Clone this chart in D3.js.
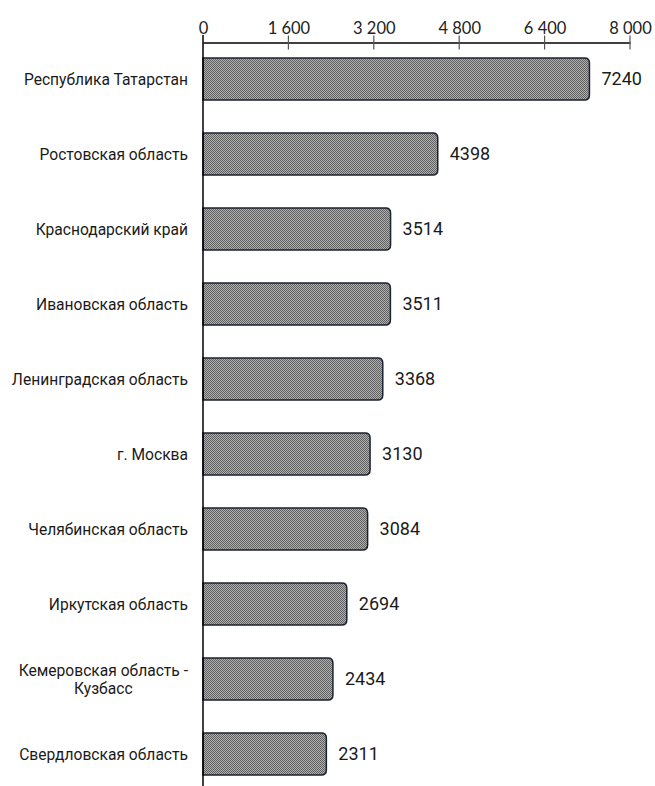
<!DOCTYPE html>
<html><head><meta charset="utf-8">
<script src="https://cdn.jsdelivr.net/npm/d3@7"></script>
<style>body{margin:0;background:#fff;} svg{display:block;}</style>
</head><body>
<svg id="chart" width="655" height="786"></svg>
<script>
const categories = ["Республика Татарстан","Ростовская область","Краснодарский край","Ивановская область","Ленинградская область","г. Москва","Челябинская область","Иркутская область","Кемеровская область -|Кузбасс","Свердловская область"];
const values = [7240,4398,3514,3511,3368,3130,3084,2694,2434,2311];
const tickValues = [0,1600,3200,4800,6400,8000];

const svg = d3.select("#chart");
const defs = svg.append("defs");
const pat = defs.append("pattern").attr("id","chk").attr("patternUnits","userSpaceOnUse").attr("width",2).attr("height",2);
pat.append("rect").attr("width",2).attr("height",2).attr("fill","#b2b2b2");
pat.append("rect").attr("width",1).attr("height",1).attr("fill","#5e5e5e");
pat.append("rect").attr("x",1).attr("y",1).attr("width",1).attr("height",1).attr("fill","#5e5e5e");

const x = d3.scaleLinear().domain([0,8000]).range([203,630]);
const y = d3.scaleBand().domain(categories).range([41.5,791.5]).paddingInner(0.44).paddingOuter(0.22);

// axis
const axis = d3.axisTop(x).tickValues(tickValues).tickSize(0)
  .tickFormat(d => d3.format(",")(d).replace(/,/g," "));
const gA = svg.append("g").attr("transform","translate(0,42.5)").call(axis);
gA.select(".domain").attr("stroke","#000").attr("stroke-width",1.5);
gA.selectAll("text").attr("font-family","Lato, 'Open Sans', sans-serif").attr("font-size","16.5px").attr("fill","#222").attr("dy","-0.35em").attr("y",-3);
// tick marks
svg.append("g").selectAll("line").data(tickValues.slice(1)).join("line")
  .attr("x1",d=>x(d)).attr("x2",d=>x(d)).attr("y1",35.5).attr("y2",49.5)
  .attr("stroke","#555").attr("stroke-width",1.2);

// bars
const r = 5;
function barPath(v, cat){
  const x0 = x(0), x1 = x(v), y0 = y(cat), h = y.bandwidth(), y1 = y0 + h;
  return `M${x0},${y0} L${x1-r},${y0} Q${x1},${y0} ${x1},${y0+r} L${x1},${y1-r} Q${x1},${y1} ${x1-r},${y1} L${x0},${y1} Z`;
}
svg.append("g").selectAll("path").data(values).join("path")
  .attr("d",(d,i)=>barPath(d,categories[i]))
  .attr("fill","url(#chk)").attr("stroke","#1c2230").attr("stroke-width",1.5);

// vertical axis line
svg.append("line").attr("x1",x(0)).attr("x2",x(0)).attr("y1",35).attr("y2",786)
  .attr("stroke","#000").attr("stroke-width",1.5);

// value labels
svg.append("g").selectAll("text").data(values).join("text")
  .attr("x",d=>x(d)+12).attr("y",(d,i)=>y(categories[i])+y.bandwidth()/2)
  .attr("dy","0.36em").attr("font-family","Roboto, sans-serif").attr("font-size","18px").attr("fill","#1a1a1a")
  .text(d=>d);

// category labels
const FS = "15.6px";
const gL = svg.append("g");
categories.forEach(c=>{
  const parts = c.split("|");
  const cy = y(c)+y.bandwidth()/2;
  if(parts.length===1){
    gL.append("text").attr("font-family","Roboto, sans-serif").attr("font-size",FS).attr("fill","#1a1a1a")
      .attr("x",188).attr("y",cy).attr("dy","0.36em").attr("text-anchor","end").text(c);
  } else {
    const tmp = gL.append("text").attr("font-family","Roboto, sans-serif").attr("font-size",FS).text(parts[0]);
    const w = tmp.node().getComputedTextLength(); tmp.remove();
    const cx = 188 - w/2;
    parts.forEach((p,k)=>{
      gL.append("text").attr("font-family","Roboto, sans-serif").attr("font-size",FS).attr("fill","#1a1a1a")
        .attr("text-anchor","middle").attr("x",cx).attr("y",cy + (k-0.5)*18).attr("dy","0.36em").text(p);
    });
  }
});
</script>
</body></html>
